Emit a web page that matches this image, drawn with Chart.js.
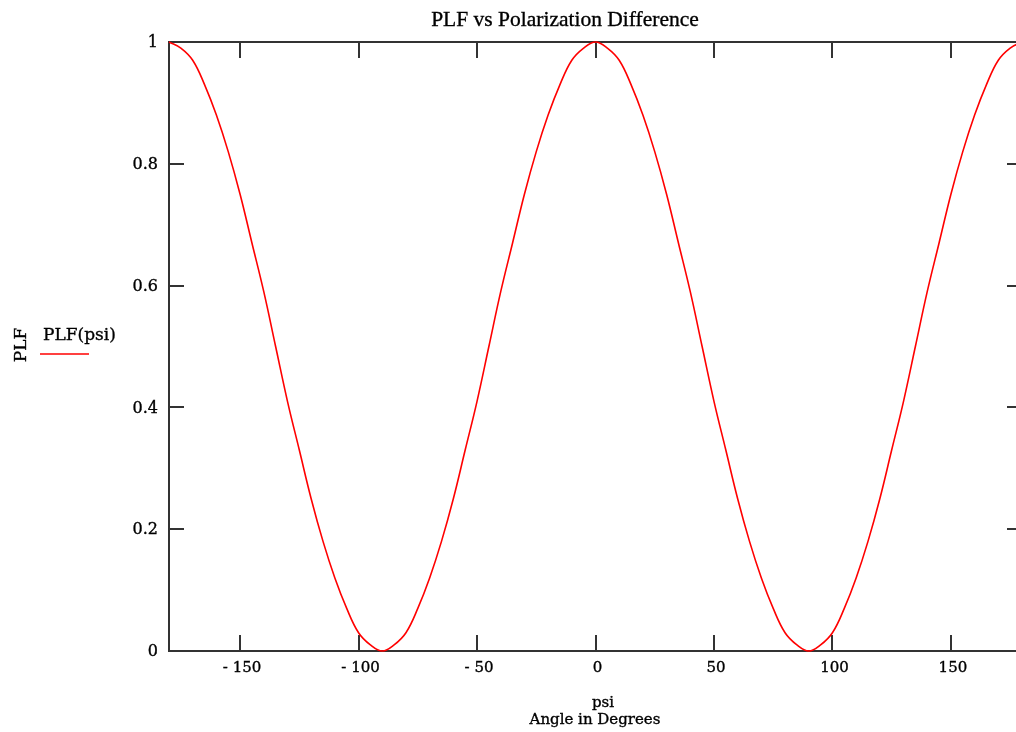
<!DOCTYPE html>
<html>
<head>
<meta charset="utf-8">
<title>PLF vs Polarization Difference</title>
<script src="https://cdn.jsdelivr.net/npm/chart.js@4.4.0/dist/chart.umd.min.js"></script>
<style>
  html, body { margin: 0; padding: 0; background: #fff; overflow: hidden; }
  #plfChart { position: absolute; left: 0; top: 0; }
</style>
</head>
<body>
<canvas id="plfChart" width="1032" height="732"></canvas>
<script>
// angle psi in degrees, read every 5 degrees
const psi = [-180, -175, -170, -165, -160, -155, -150, -145, -140, -135, -130, -125, -120,
  -115, -110, -105, -100, -95, -90, -85, -80, -75, -70, -65, -60, -55, -50, -45, -40,
  -35, -30, -25, -20, -15, -10, -5, 0, 5, 10, 15, 20, 25, 30, 35, 40, 45, 50, 55, 60,
  65, 70, 75, 80, 85, 90, 95, 100, 105, 110, 115, 120, 125, 130, 135, 140, 145, 150,
  155, 160, 165, 170, 175, 180];
const plf = [1, 0.99, 0.97, 0.93, 0.88, 0.82, 0.75, 0.67, 0.59, 0.5, 0.41, 0.33, 0.25,
  0.18, 0.12, 0.07, 0.03, 0.01, 0, 0.01, 0.03, 0.07, 0.12, 0.18, 0.25, 0.33, 0.41, 0.5, 0.59,
  0.67, 0.75, 0.82, 0.88, 0.93, 0.97, 0.99, 1, 0.99, 0.97, 0.93, 0.88, 0.82, 0.75, 0.67, 0.59,
  0.5, 0.41, 0.33, 0.25, 0.18, 0.12, 0.07, 0.03, 0.01, 0, 0.01, 0.03, 0.07, 0.12, 0.18, 0.25,
  0.33, 0.41, 0.5, 0.59, 0.67, 0.75, 0.82, 0.88, 0.93, 0.97, 0.99, 1];

const xTicks = [-150, -100, -50, 0, 50, 100, 150];
const xTickLabels = ["- 150", "- 100", "- 50", "0", "50", "100", "150"];
const yTicks = [0, 0.2, 0.4, 0.6, 0.8, 1];
const yTickLabels = ["0", "0.2", "0.4", "0.6", "0.8", "1"];

const AXIS = "#333";
const SERIF = "'Liberation Serif', 'Times New Roman', serif";
const WIDE = "'DejaVu Serif', serif";

// text drawn a touch heavier, like the old bitmap fonts
function heavyText(ctx, s, x, y) {
  ctx.fillText(s, x, y);
  ctx.strokeText(s, x, y);
}

// frame, inner ticks, labels and titles drawn from the chart's scales
const mathcadFrame = {
  id: "mathcadFrame",
  beforeDatasetsDraw(chart) {
    const ctx = chart.ctx;
    const a = chart.chartArea;
    const xs = chart.scales.x, ys = chart.scales.y;
    ctx.save();
    ctx.strokeStyle = AXIS;
    ctx.lineWidth = 2;
    ctx.strokeRect(a.left, a.top, a.right - a.left, a.bottom - a.top);
    ctx.beginPath();
    xTicks.forEach(v => {
      const px = Math.round(xs.getPixelForValue(v));
      ctx.moveTo(px, a.bottom); ctx.lineTo(px, a.bottom - 16);
      ctx.moveTo(px, a.top); ctx.lineTo(px, a.top + 16);
    });
    yTicks.forEach(v => {
      const py = Math.round(ys.getPixelForValue(v));
      ctx.moveTo(a.left, py); ctx.lineTo(a.left + 15, py);
      ctx.moveTo(a.right, py); ctx.lineTo(a.right - 15, py);
    });
    ctx.stroke();

    ctx.fillStyle = "#000";
    ctx.strokeStyle = "#000";
    ctx.lineWidth = 0.35;
    ctx.font = "15px " + WIDE;
    ctx.textAlign = "center";
    ctx.textBaseline = "middle";
    xTicks.forEach((v, i) => {
      heavyText(ctx, xTickLabels[i], xs.getPixelForValue(v) + 2, a.bottom + 17);
    });
    ctx.textAlign = "right";
    ctx.font = "16px " + WIDE;
    yTicks.forEach((v, i) => {
      heavyText(ctx, yTickLabels[i], a.left - 11, ys.getPixelForValue(v) + 1);
    });

    // title
    ctx.textAlign = "center";
    ctx.textBaseline = "alphabetic";
    ctx.font = "21.5px " + SERIF;
    heavyText(ctx, "PLF vs Polarization Difference", 565, 26);

    // x axis title
    ctx.font = "15px " + WIDE;
    heavyText(ctx, "psi", 603, 707);
    heavyText(ctx, "Angle in Degrees", 595, 724);

    // y axis title
    ctx.font = "17px " + WIDE;
    ctx.save();
    ctx.translate(26, 345);
    ctx.rotate(-Math.PI / 2);
    heavyText(ctx, "PLF", 0, 0);
    ctx.restore();

    // legend
    ctx.textAlign = "left";
    heavyText(ctx, "PLF(psi)", 43, 340);
    ctx.strokeStyle = "#ff0000";
    ctx.lineWidth = 1.5;
    ctx.beginPath();
    ctx.moveTo(40, 354); ctx.lineTo(89, 354);
    ctx.stroke();
    ctx.restore();
  }
};

new Chart(document.getElementById("plfChart"), {
  type: "line",
  data: {
    datasets: [{
      label: "PLF(psi)",
      data: psi.map((p, i) => ({ x: p, y: plf[i] })),
      borderColor: "#ff0000",
      borderWidth: 1.6,
      pointRadius: 0,
      tension: 0.4,
      clip: false
    }]
  },
  options: {
    responsive: false,
    animation: false,
    layout: { padding: { left: 161, top: 42, right: 10, bottom: 73 } },
    plugins: { legend: { display: false }, title: { display: false }, tooltip: { enabled: false } },
    scales: {
      x: {
        type: "linear", min: -180, max: 180,
        ticks: { display: false }, grid: { display: false }, border: { display: false }
      },
      y: {
        min: 0, max: 1,
        ticks: { display: false }, grid: { display: false }, border: { display: false }
      }
    }
  },
  plugins: [mathcadFrame]
});
</script>
</body>
</html>
